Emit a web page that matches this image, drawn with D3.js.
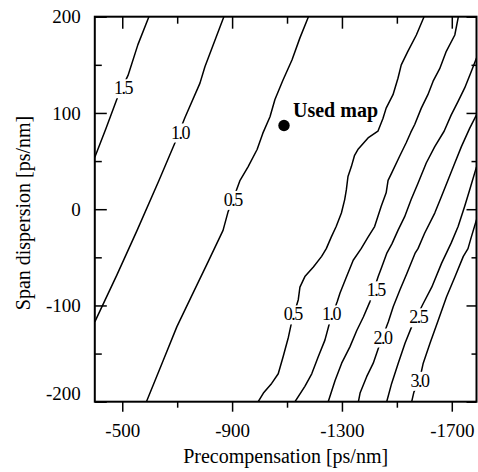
<!DOCTYPE html>
<html><head><meta charset="utf-8">
<script src="https://cdn.jsdelivr.net/npm/d3@7"></script>
<style>
html,body{margin:0;padding:0;background:#fff;}
svg{display:block;}
text{font-family:"Liberation Serif","Times New Roman",serif;fill:#000;}
</style></head><body>
<svg id="chart" width="478" height="472"></svg>
<script>
// ---- data (x = precompensation ps/nm, y = span dispersion ps/nm) ----
const xMajor = [-500, -900, -1300, -1700];
const xMinor = [-700, -1100, -1500];
const yMajor = [200, 100, 0, -100, -200];
const yMinor = [150, 50, -50, -150];

const contour15a = [[-597,200],[-557,171],[-521,139],[-484,117],[-441,84],[-400,54]];
const contour10a = [[-870,200],[-801,148],[-783,131],[-728,95],[-692,69],[-634,30],[-554,-22],[-481,-68],[-400,-117]];
const contour05a = [[-1178,200],[-1147,178],[-1118,155],[-1085,134],[-1056,114],[-1038,96],[-1012,79],[-991,62],[-958,44],[-929,30],[-907,13],[-885,-3],[-867,-22],[-812,-55],[-758,-87],[-699,-122],[-645,-160],[-588,-200]];
const contour05b = [[-1599,200],[-1571,181],[-1540,164],[-1516,150],[-1504,136],[-1486,119],[-1461,105],[-1449,94],[-1431,81],[-1395,74],[-1358,62],[-1346,56],[-1334,44],[-1322,34],[-1316,20],[-1310,10],[-1298,-4],[-1279,-18],[-1261,-29],[-1243,-41],[-1226,-49],[-1196,-60],[-1165,-70],[-1147,-81],[-1141,-94],[-1117,-117],[-1105,-133],[-1086,-153],[-1068,-171],[-1044,-181],[-1014,-191],[-995,-200]];
const contour10b = [[-1724,200],[-1711,181],[-1680,164],[-1656,146],[-1632,133],[-1613,119],[-1589,105],[-1565,88],[-1551,80],[-1534,69],[-1510,55],[-1480,37],[-1468,30],[-1461,17],[-1443,3],[-1419,-18],[-1395,-29],[-1370,-41],[-1341,-53],[-1317,-70],[-1293,-87],[-1283,-96],[-1256,-117],[-1238,-136],[-1214,-153],[-1190,-171],[-1165,-184],[-1129,-200]];
const contour15b = [[-1790,157],[-1771,143],[-1747,126],[-1723,112],[-1698,98],[-1672,81],[-1638,65],[-1607,48],[-1577,27],[-1552,10],[-1528,-8],[-1504,-22],[-1482,-36],[-1463,-46],[-1445,-60],[-1432,-70],[-1402,-96],[-1378,-112],[-1354,-126],[-1329,-143],[-1299,-160],[-1275,-178],[-1250,-200]];
const contour20 = [[-1790,98],[-1765,84],[-1735,65],[-1711,48],[-1686,30],[-1662,13],[-1638,-4],[-1601,-25],[-1577,-41],[-1566,-46],[-1536,-67],[-1511,-84],[-1487,-101],[-1469,-117],[-1432,-145],[-1414,-160],[-1390,-174],[-1366,-191],[-1360,-200]];
const contour25 = [[-1790,44],[-1765,20],[-1747,3],[-1723,-18],[-1698,-35],[-1663,-56],[-1627,-81],[-1596,-98],[-1554,-122],[-1530,-139],[-1505,-160],[-1481,-181],[-1463,-200]];
const contour30 = [[-1790,-11],[-1771,-29],[-1759,-41],[-1742,-49],[-1712,-70],[-1681,-91],[-1651,-115],[-1621,-139],[-1596,-160],[-1582,-178],[-1562,-190],[-1554,-200]];

const contours = [contour15a, contour10a, contour05a, contour05b, contour10b, contour15b, contour20, contour25, contour30];

const labelText = ["1.5", "1.0", "0.5", "0.5", "1.0", "1.5", "2.0", "2.5", "3.0"];
const labelX    = [-503, -710, -902, -1121, -1260, -1423, -1448, -1578, -1582];
const labelY    = [126, 80, 10, -109, -109, -84, -133, -112, -178];

const usedMap = [-1089, 87];
const usedMapText = "Used map";
const xTitle = "Precompensation [ps/nm]";
const yTitle = "Span dispersion [ps/nm]";

// ---- drawing ----
const W = 478, H = 472;
const x = d3.scaleLinear().domain([-400, -1790]).range([94.8, 476.5]);
const y = d3.scaleLinear().domain([-200, 200]).range([401.7, 16.7]);
const FONT = '"Liberation Serif","Times New Roman",serif';

const svg = d3.select("#chart");
svg.append("rect").attr("width", W).attr("height", H).attr("fill", "#fff");

svg.append("defs").append("clipPath").attr("id", "clip").append("rect")
  .attr("x", x.range()[0]).attr("y", y.range()[1])
  .attr("width", x.range()[1] - x.range()[0]).attr("height", y.range()[0] - y.range()[1]);

const plot = svg.append("g").attr("clip-path", "url(#clip)");
const line = d3.line().x(d => x(d[0])).y(d => y(d[1]));

contours.forEach(c => {
  plot.append("path").attr("d", line(c)).attr("fill", "none")
    .attr("stroke", "#000").attr("stroke-width", 1.5).attr("stroke-linejoin", "round");
});

labelText.forEach((t, i) => {
  const txt = plot.append("text")
    .attr("x", x(labelX[i])).attr("y", y(labelY[i])).attr("dy", "0.35em")
    .attr("text-anchor", "middle")
    .style("font-size", "18px").style("letter-spacing", "-1.5px")
    .text(t);
  const bb = txt.node().getBBox();
  plot.insert("rect", () => txt.node())
    .attr("x", bb.x - 1).attr("y", bb.y + 1).attr("width", bb.width + 2).attr("height", bb.height - 1)
    .attr("fill", "#fff");
});

// used map point
svg.append("circle").attr("cx", x(usedMap[0])).attr("cy", y(usedMap[1])).attr("r", 5.7).attr("fill", "#000");
svg.append("text").attr("x", x(usedMap[0]) + 9).attr("y", y(usedMap[1]) - 8.5)
  .style("font-size", "20px").style("font-weight", "bold").text(usedMapText);

// axes
const fmt = d => String(d);
function styleAxis(g) {
  g.select(".domain").remove();
  g.attr("font-family", FONT).attr("font-size", 19);
  g.selectAll("line").attr("stroke", "#000").attr("stroke-width", 1.5);
  g.selectAll("text").attr("fill", "#000");
}
const x0 = x.range()[0], x1 = x.range()[1], y0 = y.range()[0], y1 = y.range()[1];

svg.append("g").attr("transform", `translate(0,${y0})`)
  .call(d3.axisBottom(x).tickValues(xMajor).tickSize(10).tickSizeOuter(0).tickPadding(12).tickFormat(fmt)).call(styleAxis);
svg.append("g").attr("transform", `translate(0,${y0})`)
  .call(d3.axisBottom(x).tickValues(xMinor).tickSize(6).tickSizeOuter(0).tickFormat("")).call(styleAxis);
svg.append("g").attr("transform", `translate(0,${y1})`)
  .call(d3.axisTop(x).tickValues(xMajor).tickSize(-12).tickSizeOuter(0).tickFormat("")).call(styleAxis);
svg.append("g").attr("transform", `translate(0,${y1})`)
  .call(d3.axisTop(x).tickValues(xMinor).tickSize(-7).tickSizeOuter(0).tickFormat("")).call(styleAxis);

const leftAx = svg.append("g").attr("transform", `translate(${x0},0)`)
  .call(d3.axisLeft(y).tickValues(yMajor).tickSize(-12).tickSizeOuter(0).tickPadding(14).tickFormat(fmt)).call(styleAxis);
leftAx.selectAll(".tick").filter(d => d === -200).select("text").attr("dy", "-0.1em");
svg.append("g").attr("transform", `translate(${x0},0)`)
  .call(d3.axisLeft(y).tickValues(yMinor).tickSize(-7).tickSizeOuter(0).tickFormat("")).call(styleAxis);
svg.append("g").attr("transform", `translate(${x1},0)`)
  .call(d3.axisRight(y).tickValues(yMajor).tickSize(-10).tickSizeOuter(0).tickFormat("")).call(styleAxis);
svg.append("g").attr("transform", `translate(${x1},0)`)
  .call(d3.axisRight(y).tickValues(yMinor).tickSize(-5).tickSizeOuter(0).tickFormat("")).call(styleAxis);

// frame
svg.append("rect").attr("x", x0).attr("y", y1).attr("width", x1 - x0).attr("height", y0 - y1)
  .attr("fill", "none").attr("stroke", "#000").attr("stroke-width", 2);

// titles
svg.append("text").attr("x", (x0 + x1) / 2).attr("y", 463).attr("text-anchor", "middle")
  .style("font-size", "20px").text(xTitle);
svg.append("text").attr("transform", "translate(30,213) rotate(-90)").attr("text-anchor", "middle")
  .style("font-size", "20px").text(yTitle);
</script>
</body></html>
